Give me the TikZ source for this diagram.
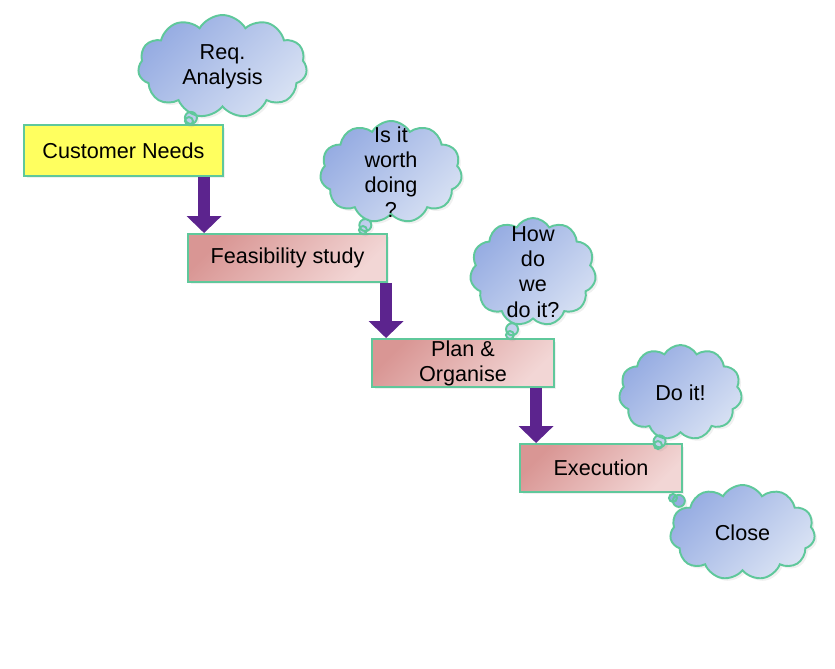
\documentclass[tikz,border=0pt]{standalone}
\usepackage{fontspec}
\setmainfont{Liberation Sans}
\usetikzlibrary{arrows.meta, positioning, calc, shapes.symbols, shapes.callouts, shadows}
\definecolor{stepgreen}{RGB}{95, 200, 155}
\definecolor{stepyellow}{RGB}{255, 255, 95}
\definecolor{steppinkdark}{RGB}{217, 150, 148}
\definecolor{steppinklight}{RGB}{242, 214, 213}
\definecolor{cloudblue}{RGB}{150, 172, 226}
\definecolor{cloudlight}{RGB}{218, 227, 244}
\definecolor{flowpurple}{RGB}{92, 36, 142}

\begin{document}
\begin{tikzpicture}[x=0.02cm, y=-0.02cm,
  every node/.style={font=\fontsize{12.3}{14.3}\selectfont, align=center},
  phase/.style={draw=stepgreen, line width=1.1pt, top color=steppinkdark,
    bottom color=steppinklight, shading angle=45, minimum height=0.96cm, inner sep=0pt,
    drop shadow={opacity=0.12, shadow xshift=0.05cm, shadow yshift=-0.05cm}},
  thought/.style={cloud callout, cloud puffs=11, cloud puff arc=120, cloud ignores aspect,
    draw=stepgreen, line width=1.1pt, top color=cloudblue, bottom color=cloudlight,
    shading angle=45, inner sep=0pt, callout pointer segments=2,
    callout pointer start size=0.36cm and 0.32cm,
    callout pointer end size=0.18cm and 0.16cm,
    drop shadow={opacity=0.12, shadow xshift=0.05cm, shadow yshift=-0.05cm}},
  flow/.style={draw=flowpurple, line width=0.24cm, -{Triangle[width=0.68cm, length=0.34cm]}}]
  \useasboundingbox (0,0) rectangle (835,669);

  % Phase boxes
  \node[phase, top color=stepyellow, bottom color=stepyellow, minimum width=3.98cm,
    minimum height=1.02cm] (cust) at (123.5,150.5) {Customer Needs};
  \node[phase, minimum width=3.98cm] (feas) at (287.5,258) {Feasibility study};
  \node[phase, minimum width=3.64cm] (plan) at (463,363) {Plan \&\\Organise};
  \node[phase, minimum width=3.24cm] (exec) at (601,468) {Execution};

  % Arrows down the staircase
  \draw[flow] ($(cust.south -| feas.north west)+(17,0)$) -- ($(feas.north west)+(17,0)$);
  \draw[flow] ($(feas.south -| plan.north west)+(15,0)$) -- ($(plan.north west)+(15,0)$);
  \draw[flow] ($(plan.south -| exec.north west)+(17,0)$) -- ($(exec.north west)+(17,0)$);

  % Thought clouds
  \node[thought, minimum width=3.38cm, minimum height=2.06cm,
    callout absolute pointer={($(cust.north east)+(-35,-3)$)}] (req) at (222.5,66.5)
    {Req.\\Analysis};
  \node[thought, minimum width=2.84cm, minimum height=2.04cm, inner ysep=-0.5cm,
    callout absolute pointer={($(feas.north east)+(-25,-3)$)}] (worth) at (391,172)
    {Is it\\worth\\doing\\?};
  \node[thought, minimum width=2.52cm, minimum height=2.16cm, inner ysep=-0.5cm,
    callout absolute pointer={($(plan.north east)+(-45,-3)$)}] (how) at (533,272)
    {How\\do\\we\\do it?};
  \node[thought, minimum width=2.46cm, minimum height=1.9cm,
    callout absolute pointer={($(exec.north east)+(-25,2)$)}] (doit) at (680.5,392.5)
    {Do it!};
  \node[thought, minimum width=2.9cm, minimum height=1.9cm,
    callout absolute pointer={($(exec.south east)+(-10,5)$)}] (close) at (742.5,532.5)
    {Close};
\end{tikzpicture}
\end{document}
